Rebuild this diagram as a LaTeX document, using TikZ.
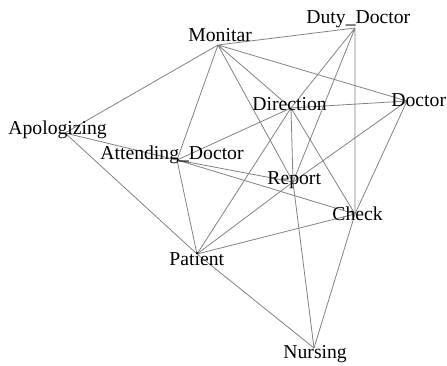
\documentclass[tikz,border=0pt]{standalone}
\usepackage{fontspec}
\setmainfont{Liberation Serif}
\begin{document}
\begin{tikzpicture}[x=0.508pt, y=-0.508pt,
    link/.style={black!50, line width=0.4pt},
    lbl/.style={inner sep=0pt, anchor=base west, font=\fontsize{10}{12}\selectfont}]
  \useasboundingbox (0,0) rectangle (447,366);
  % vertices
  \coordinate (monitar) at (218,45);
  \coordinate (duty) at (355,28);
  \coordinate (doctor) at (407,101);
  \coordinate (direction) at (291,108);
  \coordinate (apolog) at (65,133);
  \coordinate (attend) at (177,160);
  \coordinate (report) at (293,182);
  \coordinate (check) at (355,214);
  \coordinate (patient) at (197,254);
  \coordinate (nursing) at (314,348);
  % ties
  \draw[link] (monitar) -- (duty) (monitar) -- (apolog) (monitar) -- (attend)
    (monitar) -- (direction) (monitar) -- (report) (monitar) -- (doctor);
  \draw[link] (duty) -- (direction) (duty) -- (report) (duty) -- (check);
  \draw[link] (direction) -- (doctor) (direction) -- (attend) (direction) -- (patient)
    (direction) -- (report) (direction) -- (check);
  \draw[link] (doctor) -- (report) (doctor) -- (check);
  \draw[link] (apolog) -- (attend) (apolog) -- (patient);
  \draw[link] (attend) -- (report) (attend) -- (check) (attend) -- (patient);
  \draw[link] (report) -- (patient) (report) -- (nursing);
  \draw[link] (patient) -- (check) (patient) -- (nursing) (check) -- (nursing);
  % labels
  \node[lbl] (monitarlbl) at (188,42) {Monitar};
  \node[lbl] (dutylbl) at (306,24) {Duty\_Doctor};
  \node[lbl] (doctorlbl) at (391,107) {Doctor};
  \node[lbl] (directionlbl) at (252,111) {Direction};
  \node[lbl] (apologlbl) at (8,135) {Apologizing};
  \node[lbl] (attendlbl) at (100,160) {Attending\_Doctor};
  \node[lbl] (reportlbl) at (267,185) {Report};
  \node[lbl] (checklbl) at (332,221) {Check};
  \node[lbl] (patientlbl) at (169,266) {Patient};
  \node[lbl] (nursinglbl) at (283,359) {Nursing};
\end{tikzpicture}
\end{document}
